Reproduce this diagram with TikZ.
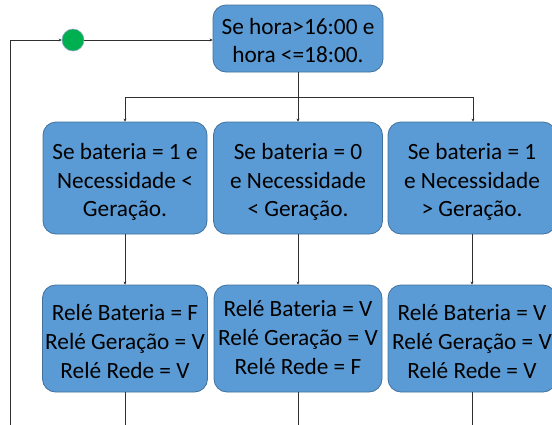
\documentclass[tikz,border=0pt]{standalone}
\usepackage{fontspec}
\setmainfont{Carlito}
\usetikzlibrary{arrows.meta}
\definecolor{boxfill}{HTML}{5B9BD5}
\definecolor{boxdraw}{HTML}{41719C}
\definecolor{dotfill}{HTML}{00B050}
\definecolor{linecol}{HTML}{303030}
\begin{document}
\begin{tikzpicture}[x=1pt,y=-1pt,
  box/.style={draw=boxdraw, fill=boxfill, rounded corners=13pt, inner sep=0pt, line width=0.8pt},
  txt/.style={align=center, inner sep=0pt, font=\fontsize{23.3}{28.8}\selectfont},
  conn/.style={draw=linecol, line width=0.8pt},
  tip/.style={conn, -{Stealth[length=3pt,width=3pt]}}]
\useasboundingbox (0,0) rectangle (552,424);
\clip (0,0) rectangle (552,424);
\node[box, minimum width=170pt, minimum height=67pt] (top) at (298,38.5) {};
\node[txt] (topt) at ([yshift=-2pt]top.center) {Se hora>16:00 e\\hora <=18:00.};
\node[box, minimum width=164pt, minimum height=112pt] (m1) at (125,178) {};
\node[txt] (m1t) at ([yshift=-4pt]m1.center) {Se bateria = 1 e\\Necessidade <\\Geração.};
\node[box, minimum width=169pt, minimum height=112pt] (m2) at (298,178) {};
\node[txt] (m2t) at ([yshift=-4pt]m2.center) {Se bateria = 0\\e Necessidade\\< Geração.};
\node[box, minimum width=168pt, minimum height=112pt] (m3) at (472,178) {};
\node[txt] (m3t) at ([yshift=-4pt]m3.center) {Se bateria = 1\\e Necessidade\\> Geração.};
\node[box, minimum width=165pt, minimum height=107pt] (b1) at (125,338.5) {};
\node[txt] (b1t) at ([yshift=-3pt]b1.center) {Relé Bateria = F\\Relé Geração = V\\Relé Rede = V};
\node[box, minimum width=168pt, minimum height=107pt] (b2) at (298,338.5) {};
\node[txt] (b2t) at ([yshift=1pt]b2.center) {Relé Bateria = V\\Relé Geração = V\\Relé Rede = F};
\node[box, minimum width=168pt, minimum height=107pt] (b3) at (472,338.5) {};
\node[txt] (b3t) at ([yshift=-3pt]b3.center) {Relé Bateria = V\\Relé Geração = V\\Relé Rede = V};
\node[circle, fill=dotfill, draw=boxdraw!60, line width=0.6pt, minimum size=22pt, inner sep=0pt] (g) at (73,40) {};
\coordinate (split) at (298,97);
\coordinate (hl) at (125,97);
\coordinate (hr) at (473,97);
\coordinate (e1) at (125,430);
\coordinate (e2) at (298,430);
\coordinate (e3) at (472,430);
\coordinate (lb) at (10,430);
\coordinate (lc) at (10,40);
\draw[conn] (top.south) -- (split);
\draw[conn] (hl) -- (hr);
\draw[tip] (hl) -- (m1.north);
\draw[tip] (split) -- (m2.north);
\draw[tip] (hr) -- (hr |- m3.north);
\draw[tip] (m1.south) -- (b1.north);
\draw[tip] (m2.south) -- (b2.north);
\draw[tip] (m3.south) -- (b3.north);
\draw[conn] (b1.south) -- (e1);
\draw[conn] (b2.south) -- (e2);
\draw[conn] (b3.south) -- (e3);
\draw[tip] (lb) -- (lc) -- (g.west);
\draw[tip] (g.east) -- (top.west |- g);
\end{tikzpicture}
\end{document}
